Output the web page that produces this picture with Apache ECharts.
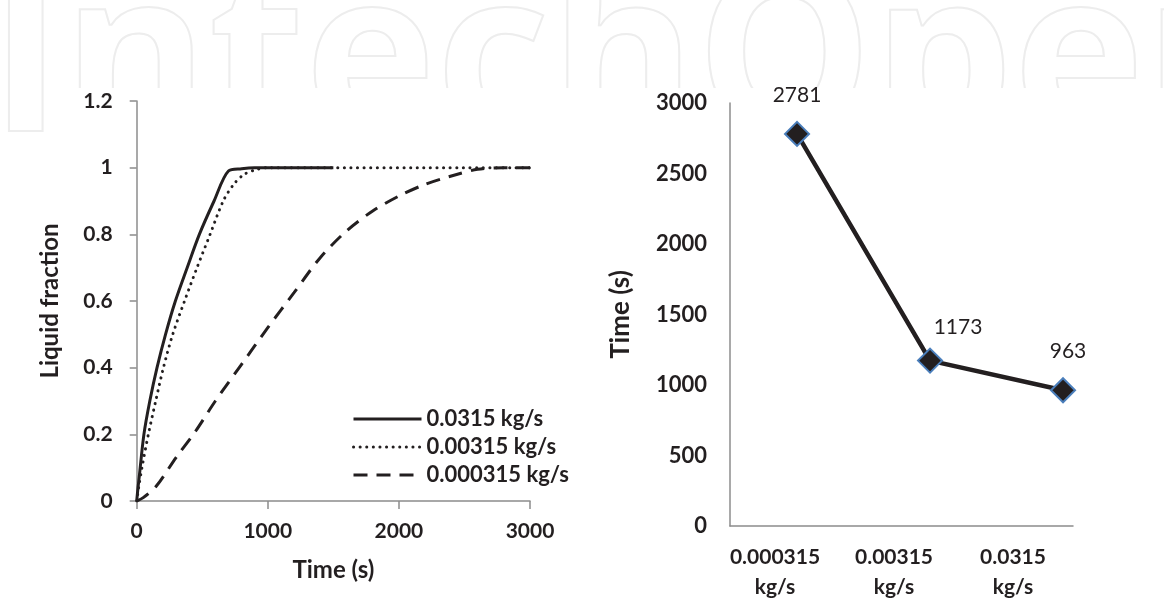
<!DOCTYPE html>
<html>
<head>
<meta charset="utf-8">
<script src="https://cdn.jsdelivr.net/npm/echarts@6/dist/echarts.min.js"></script>
<style>
  html, body { margin: 0; padding: 0; background: #fff; }
  #chart { width: 1164px; height: 603px; }
</style>
</head>
<body>
<div id="chart"></div>
<script>
// (a) liquid fraction over time for three mass flow rates: [time s, fraction]
const flow0315 = [[0,0],[10,0.04],[20,0.075],[55,0.2],[100,0.3],[155,0.4],[220,0.5],[295,0.6],[385,0.7],[478,0.8],[590,0.9],[700,0.99],[800,0.997],[900,1],[1500,1]];
const flow00315 = [[0,0],[15,0.04],[40,0.1],[89,0.2],[145,0.3],[204,0.4],[275,0.5],[365,0.6],[460,0.7],[560,0.8],[660,0.9],[740,0.95],[820,0.98],[920,0.995],[1000,1],[3000,1]];
const flow000315 = [[0,0],[50,0.01],[150,0.045],[300,0.13],[450,0.21],[600,0.3],[800,0.41],[1000,0.52],[1200,0.625],[1400,0.73],[1600,0.81],[1800,0.87],[2000,0.915],[2200,0.95],[2400,0.975],[2600,0.995],[2800,1],[3000,1]];
const seriesNames = ['0.0315 kg/s', '0.00315 kg/s', '0.000315 kg/s'];

// (b) complete melting time per flow rate
const rateLabels = ['0.000315\nkg/s', '0.00315\nkg/s', '0.0315\nkg/s'];
const meltTimes = [2781, 1173, 963];
const meltLabelOffsets = [[0, -10], [28, -5], [5, -10]];

const ink = '#231f20';
const axisGray = '#8c8c8c';
const font = 'Lato';
const plain = v => String(Math.round(v * 10) / 10);

const chart = echarts.init(document.getElementById('chart'), null, { renderer: 'canvas' });

const option = {
  backgroundColor: '#fff',
  animation: false,
  graphic: [
    {
      type: 'text', z: 0, left: -12, top: -44,
      style: {
        text: 'IntechOpen',
        font: 'bold 222px "Open Sans"',
        fill: 'none', stroke: '#ededed', lineWidth: 2
      }
    },
    {
      type: 'rect', z: 1,
      shape: { x: 60, y: 88, width: 1104, height: 515 },
      style: { fill: '#fff' }
    }
  ],
  legend: {
    z: 5,
    orient: 'vertical',
    left: 347, top: 403,
    itemWidth: 68, itemHeight: 20, itemGap: 6,
    data: seriesNames,
    itemStyle: { color: 'rgba(0,0,0,0)', borderWidth: 0 },
    lineStyle: { width: 3 },
    textStyle: { fontFamily: font, fontWeight: 'bold', fontSize: 22, color: ink }
  },
  grid: [
    { left: 136.7, top: 101, right: 634, bottom: 102 },
    { left: 730, top: 103, right: 91, bottom: 77 },
    { left: 715.5, top: 103, right: 91.5, bottom: 77 }
  ],
  xAxis: [
    {
      gridIndex: 0, type: 'value', min: 0, max: 3000, interval: 1000, z: 5,
      name: 'Time (s)', nameLocation: 'middle', nameGap: 57,
      nameTextStyle: { fontFamily: font, fontWeight: 'bold', fontSize: 24, color: ink },
      axisLine: { lineStyle: { color: axisGray, width: 1.5 } },
      axisTick: { show: true, length: 8, lineStyle: { color: axisGray, width: 1.5 } },
      splitLine: { show: false },
      axisLabel: { margin: 20, fontFamily: font, fontWeight: 'bold', fontSize: 21, color: ink, formatter: plain }
    },
    {
      gridIndex: 1, type: 'value', min: -0.504, max: 2.075, z: 5,
      axisLine: { show: true, onZero: false, lineStyle: { color: axisGray, width: 1.5 } },
      axisTick: { show: false }, axisLabel: { show: false }, splitLine: { show: false }
    },
    {
      gridIndex: 2, type: 'category', data: rateLabels, z: 5,
      axisLine: { show: false }, axisTick: { show: false }, splitLine: { show: false },
      axisLabel: { margin: 16, lineHeight: 30, fontFamily: font, fontWeight: 'bold', fontSize: 21, color: ink }
    }
  ],
  yAxis: [
    {
      gridIndex: 0, type: 'value', min: 0, max: 1.2, interval: 0.2, z: 5,
      name: 'Liquid fraction', nameLocation: 'middle', nameGap: 74,
      nameTextStyle: { fontFamily: font, fontWeight: 'bold', fontSize: 24, color: ink },
      axisLine: { show: true, lineStyle: { color: axisGray, width: 1.5 } },
      axisTick: { show: true, length: 7, lineStyle: { color: axisGray, width: 1.5 } },
      splitLine: { show: false },
      axisLabel: { margin: 24, fontFamily: font, fontWeight: 'bold', fontSize: 21, color: ink, formatter: plain }
    },
    {
      gridIndex: 1, type: 'value', min: 0, max: 3000, interval: 500, z: 5,
      name: 'Time (s)', nameLocation: 'middle', nameGap: 96,
      nameTextStyle: { fontFamily: font, fontWeight: 'bold', fontSize: 26, color: ink },
      axisLine: { show: true, onZero: false, lineStyle: { color: axisGray, width: 1.5 } },
      axisTick: { show: false }, splitLine: { show: false },
      axisLabel: { margin: 23, fontFamily: font, fontWeight: 'bold', fontSize: 22, color: ink, formatter: plain }
    },
    { gridIndex: 2, type: 'value', show: false, min: 0, max: 3000 }
  ],
  series: [
    {
      name: seriesNames[0], type: 'line', xAxisIndex: 0, yAxisIndex: 0, z: 5,
      data: flow0315, symbol: 'none', smooth: 0.3,
      lineStyle: { color: ink, width: 3, type: 'solid' }, itemStyle: { color: ink }
    },
    {
      name: seriesNames[1], type: 'line', xAxisIndex: 0, yAxisIndex: 0, z: 5,
      data: flow00315, symbol: 'none', smooth: 0.3,
      lineStyle: { color: ink, width: 3, type: [0.1, 6.5], cap: 'round' }, itemStyle: { color: ink }
    },
    {
      name: seriesNames[2], type: 'line', xAxisIndex: 0, yAxisIndex: 0, z: 5,
      data: flow000315, symbol: 'none', smooth: 0.3,
      lineStyle: { color: ink, width: 3, type: [14, 9] }, itemStyle: { color: ink }
    },
    {
      type: 'line', xAxisIndex: 1, yAxisIndex: 1, z: 5,
      data: meltTimes.map((v, i) => ({
        value: [i, v],
        label: { offset: meltLabelOffsets[i] }
      })),
      symbol: 'diamond', symbolSize: 24,
      lineStyle: { color: ink, width: 4.5 },
      itemStyle: { color: ink, borderColor: '#4a7ebb', borderWidth: 2 },
      label: {
        show: true, position: 'top', distance: 5,
        formatter: p => String(p.value[1]),
        fontFamily: font, fontSize: 21, color: ink
      }
    }
  ]
};

chart.setOption(option);
</script>
</body>
</html>
